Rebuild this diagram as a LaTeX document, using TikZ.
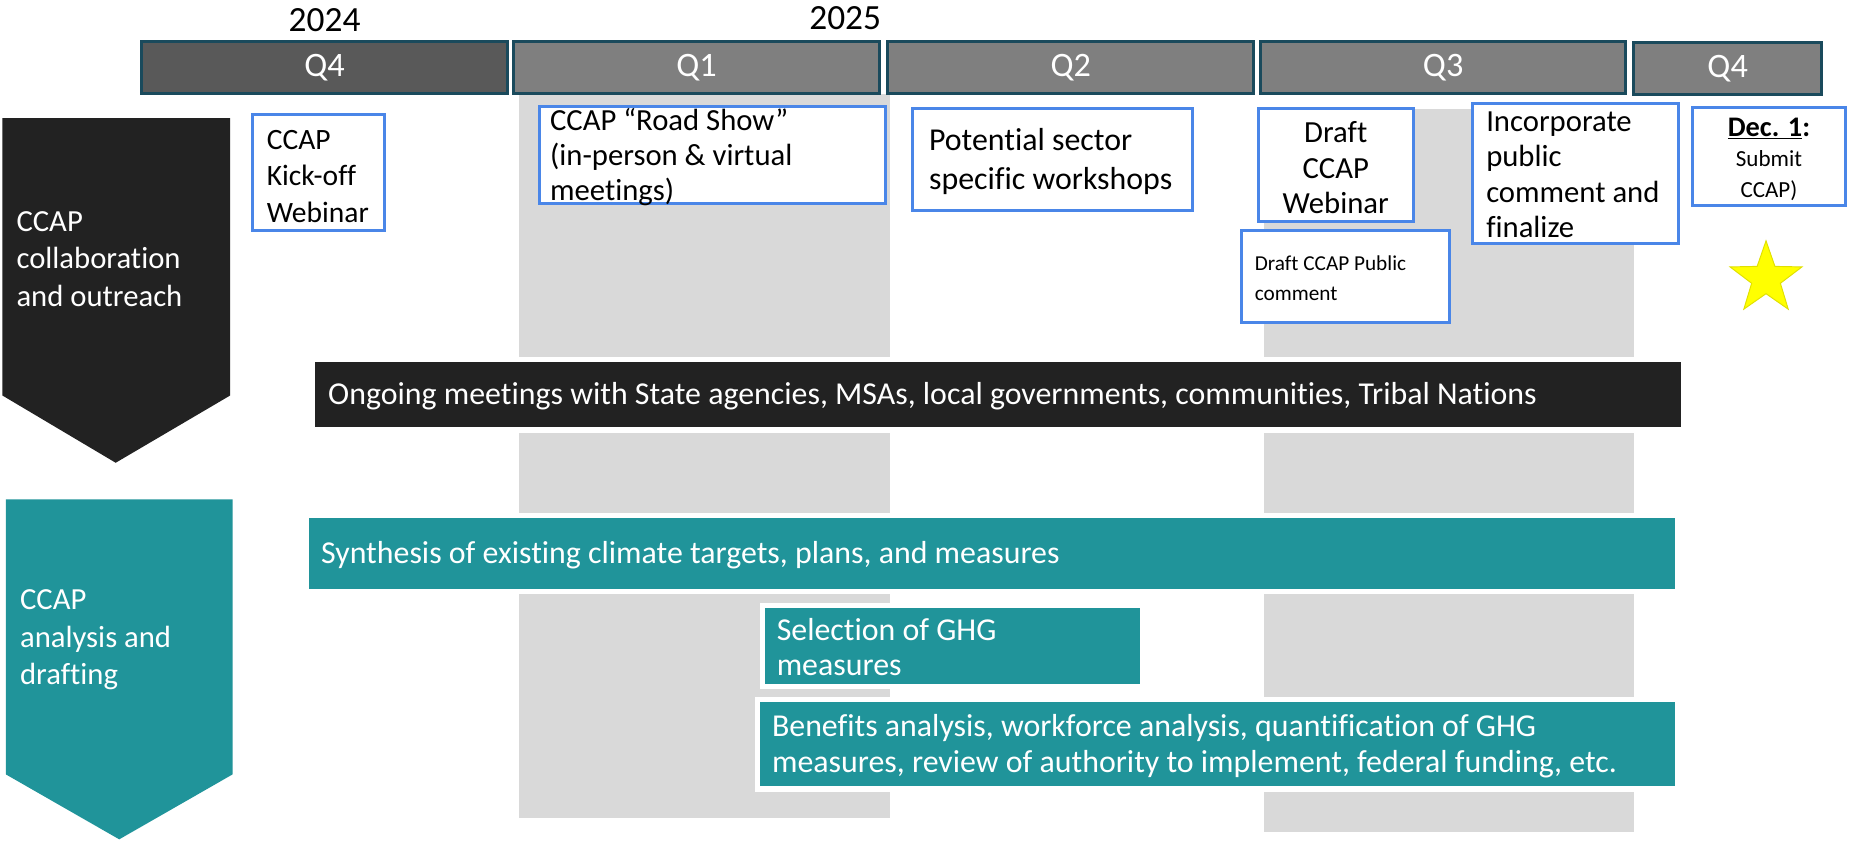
\documentclass[tikz,border=0pt]{standalone}
\usepackage{fontspec}
\setmainfont{Carlito}[Ligatures={NoCommon}]
\usetikzlibrary{shapes.geometric}
\definecolor{hdrfill}{HTML}{7F7F7F}
\definecolor{hdrdark}{HTML}{595959}
\definecolor{hdrline}{HTML}{1A4A5C}
\definecolor{colgray}{HTML}{D9D9D9}
\definecolor{barblack}{HTML}{222222}
\definecolor{barteal}{HTML}{20949A}
\definecolor{boxblue}{HTML}{4A86E8}
\definecolor{staryellow}{HTML}{FFFF00}
\definecolor{starline}{HTML}{E0E000}
\begin{document}
\begin{tikzpicture}[x=1pt,y=-1pt,
  box/.style={anchor=north west, inner sep=0pt, outer sep=0pt},
  hdr/.style={box, draw=hdrline, line width=2.8pt, fill=hdrfill, text=white,
    minimum height=44, font=\fontsize{29}{34}\selectfont},
  bluebox/.style={box, draw=boxblue, line width=2.6pt, fill=white},
  bar/.style={box, preaction={draw=white, line width=9pt}},
  txt/.style={inner sep=0pt, outer sep=0pt, align=left, anchor=west},
  wtxt/.style={txt, text=white},
  yr/.style={inner sep=0pt, font=\fontsize{30}{36}\selectfont}
]
\useasboundingbox (0,0) rectangle (1568,713);

% light gray quarter columns
\fill[colgray] (440,80) rectangle (754,693);
\fill[colgray] (1071,92) rectangle (1384,705);

% years
\node[yr] (y2024) at (275,17) {2024};
\node[yr] (y2025) at (716,15) {2025};

% header bars
\node[hdr, fill=hdrdark, minimum width=310] (hq4a) at (120,35) {Q4};
\node[hdr, minimum width=310] (hq1) at (435,35) {Q1};
\node[hdr, minimum width=310] (hq2) at (752,35) {Q2};
\node[hdr, minimum width=309] (hq3) at (1068,35) {Q3};
\node[hdr, minimum width=159] (hq4b) at (1384,36) {Q4};

% left chevrons
\fill[barblack] (2,100) -- (195,100) -- (195,335) -- (98,392) -- (2,335) -- cycle;
\fill[barteal] (5,423) -- (197,423) -- (197,656) -- (101,711) -- (5,656) -- cycle;
\node[wtxt, font=\fontsize{26}{31.5}\selectfont] (collab) at (14,219.5)
  {CCAP\\collaboration\\and outreach};
\node[wtxt, font=\fontsize{26}{32}\selectfont] (analysis) at (17,542)
  {CCAP\\analysis and\\drafting};

% outreach boxes
\node[bluebox, minimum width=112, minimum height=98] (kick) at (214,97) {};
\node[txt, font=\fontsize{25}{31}\selectfont] (kicktxt) at (226,149.5)
  {CCAP\\Kick-off\\Webinar};
\node[bluebox, minimum width=293, minimum height=82] (road) at (457,90) {};
\node[txt, font=\fontsize{26}{30}\selectfont] (roadtxt) at (466,133)
  {CCAP “Road Show”\\(in-person \& virtual\\meetings)};
\node[bluebox, minimum width=237, minimum height=86] (pot) at (773,92) {};
\node[txt, font=\fontsize{27}{33}\selectfont] (pottxt) at (787,136.5)
  {Potential sector\\specific workshops};
\node[bluebox, minimum width=131, minimum height=96] (dweb) at (1066,92) {};
\node[txt, align=center, anchor=center, font=\fontsize{26}{30}\selectfont] (dwebtxt) at (1131.5,142)
  {Draft\\CCAP\\Webinar};
\node[bluebox, minimum width=176, minimum height=78] (dpub) at (1052,195) {};
\node[txt, font=\fontsize{18}{25}\selectfont] (dpubtxt) at (1063,235.5)
  {Draft CCAP Public\\comment};
\node[bluebox, minimum width=175, minimum height=118] (inc) at (1247,88) {};
\node[txt, font=\fontsize{26}{30}\selectfont] (inctxt) at (1259,148)
  {Incorporate\\public\\comment and\\finalize};
\node[bluebox, minimum width=129, minimum height=83] (dec) at (1434,91) {};
\node[txt, align=center, anchor=center, font=\fontsize{19.5}{26}\selectfont] (dectxt) at (1498.5,135)
  {{\fontsize{24}{26}\selectfont\bfseries\underline{Dec. 1}:}\\Submit\\CCAP)};
\node[star, star points=5, star point ratio=2.5, minimum size=64, inner sep=0pt,
  fill=staryellow, draw=starline, line width=0.8pt] (star) at (1496,236) {};

% long bars
\node[bar, fill=barblack, minimum width=1157, minimum height=55] (ongoing) at (267,307) {};
\node[wtxt, font=\fontsize{27}{32}\selectfont] (ongoingtxt) at (278,336)
  {Ongoing meetings with State agencies, MSAs, local governments, communities, Tribal Nations};
\node[bar, fill=barteal, minimum width=1157, minimum height=60] (synth) at (262,439) {};
\node[wtxt, font=\fontsize{27}{32}\selectfont] (synthtxt) at (272,470)
  {Synthesis of existing climate targets, plans, and measures};
\node[bar, fill=barteal, minimum width=318, minimum height=64] (sel) at (648,515) {};
\node[wtxt, font=\fontsize{27}{30}\selectfont] (seltxt) at (658,548)
  {Selection of GHG\\measures};
\node[bar, fill=barteal, minimum width=775, minimum height=71] (ben) at (644,595) {};
\node[wtxt, font=\fontsize{27}{31}\selectfont] (bentxt) at (654,632)
  {Benefits analysis, workforce analysis, quantification of GHG\\measures, review of authority to implement, federal funding, etc.};
\end{tikzpicture}
\end{document}
